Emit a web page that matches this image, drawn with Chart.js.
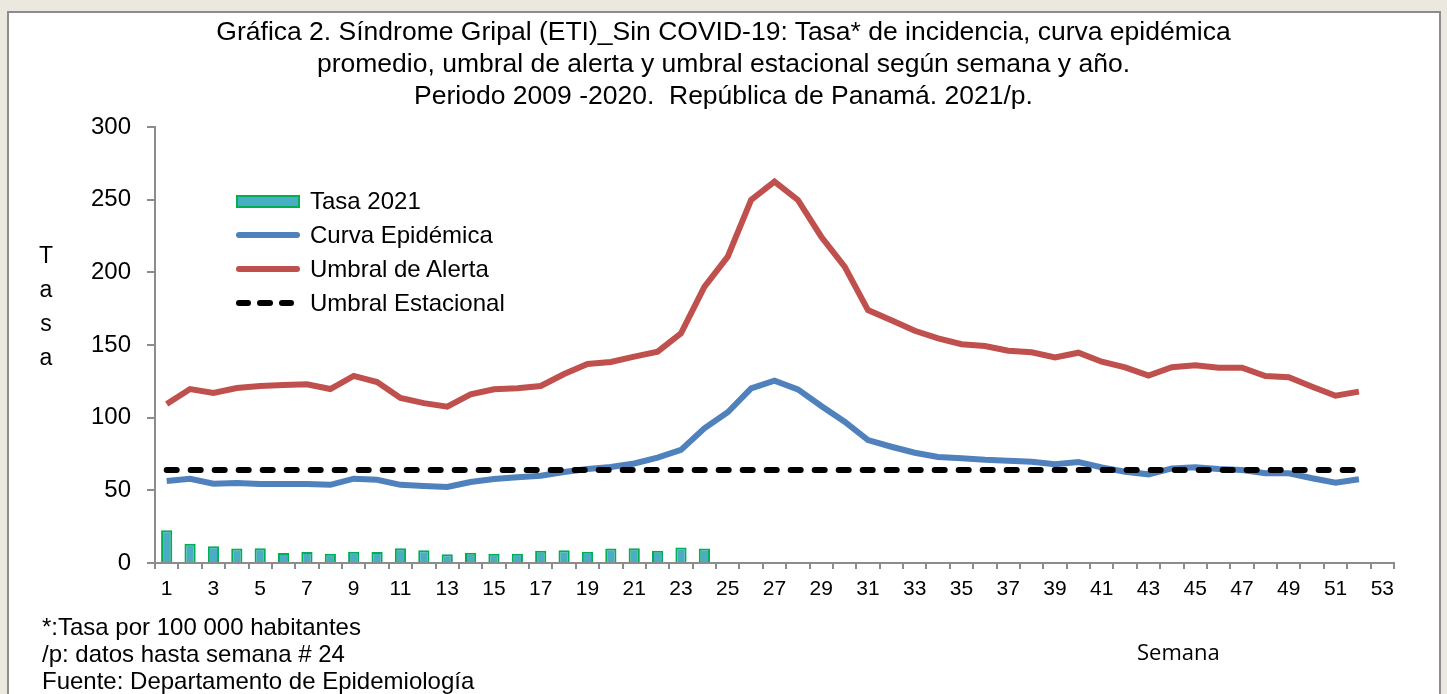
<!DOCTYPE html>
<html>
<head>
<meta charset="utf-8">
<script src="https://cdn.jsdelivr.net/npm/chart.js@4.4.1/dist/chart.umd.min.js"></script>
<style>
  html, body { margin: 0; padding: 0; }
  body { width: 1447px; height: 694px; background: #ebe8e0; position: relative; overflow: hidden;
         font-family: "Liberation Sans", Arial, sans-serif; color: #000; }
  #box { position: absolute; left: 7px; top: 11px; width: 1434px; height: 700px; background: #fff;
         border: 2px solid #8c8c8c; box-sizing: border-box; }
  #wrap { position: absolute; left: 0; top: 0; width: 1447px; height: 694px; }
  .txt { position: absolute; white-space: nowrap; }
  #title { left: 0; width: 1447px; top: 15px; text-align: center; font-size: 26.5px; line-height: 32px; }
  #ylab { left: 34px; top: 238px; width: 24px; text-align: center; font-size: 23px; line-height: 34px; }
  #notes { left: 42px; top: 613px; font-size: 24px; line-height: 27px; }
  #semana { left: 1137px; top: 636px; font-family: "Open Sans", sans-serif; font-size: 22px; }
  #legend { left: 236px; top: 184px; font-size: 24px; }
  .row { height: 34px; display: flex; align-items: center; }
  .sym { width: 64px; height: 14px; margin-right: 10px; position: relative; }
  .bar { background: #4bacc6; border: 2px solid #00b050; box-sizing: border-box; height: 13px; }
  .ln { height: 6px; border-radius: 3px; }
  .dash { display: inline-block; width: 17px; height: 6px; border-radius: 3px; background: #000; margin-right: 6px; }
</style>
</head>
<body>
<div id="box"></div>
<div id="wrap"><canvas id="c" width="1447" height="694"></canvas></div>

<div class="txt" id="title">Gráfica 2. Síndrome Gripal (ETI)_Sin COVID-19: Tasa* de incidencia, curva epidémica<br>promedio, umbral de alerta y umbral estacional según semana y año.<br>Periodo 2009 -2020.&nbsp; República de Panamá. 2021/p.</div>
<div class="txt" id="ylab">T<br>a<br>s<br>a</div>
<div class="txt" id="legend">
  <div class="row"><div class="sym bar"></div>Tasa 2021</div>
  <div class="row"><div class="sym ln" style="background:#4f81bd"></div>Curva Epidémica</div>
  <div class="row"><div class="sym ln" style="background:#c0504d"></div>Umbral de Alerta</div>
  <div class="row"><div class="sym" style="height:6px;display:flex"><span class="dash"></span><span class="dash"></span><span class="dash"></span></div>Umbral Estacional</div>
</div>
<div class="txt" id="notes">*:Tasa por 100 000 habitantes<br>/p: datos hasta semana # 24<br>Fuente: Departamento de Epidemiología</div>
<div class="txt" id="semana">Semana</div>

<script>
// semanas 1..53
var semanas = [];
for (var s = 1; s <= 53; s++) semanas.push(String(s));

// Tasa 2021 (semanas 1-24)
var tasa2021 = [22.5, 13.3, 11.5, 9.9, 10.1, 6.9, 7.6, 6.4, 7.8, 7.6, 10.1, 8.7,
                6.0, 7.0, 6.4, 6.4, 8.5, 8.7, 7.8, 9.9, 10.1, 8.5, 10.6, 9.9];

// Curva epidémica promedio (semanas 1-52)
var curvaEpidemica = [56.4, 58, 54.5, 55, 54.3, 54.3, 54.3, 53.8, 58, 57.3, 53.8, 53, 52.3, 55.7, 57.8, 59, 60,
                      62.6, 64.7, 66, 68.5, 72.5, 77.8, 92.7, 103.7, 120.2, 125.5, 119.5, 108, 97.2, 84.6, 80,
                      75.9, 73, 72, 71, 70.4, 69.7, 67.9, 69.5, 65.8, 62.8, 61, 65.1, 65.8, 64.7, 64, 61.7,
                      61.7, 58.3, 55.3, 57.6];

// Umbral de alerta (semanas 1-52)
var umbralAlerta = [109.4, 119.7, 117, 120.4, 121.8, 122.5, 123, 119.7, 128.7, 124.5, 113.5, 110, 107.6,
                    116, 119.5, 120.2, 121.8, 130, 137, 138.3, 142, 145.4, 158, 190, 210.8, 249.8, 262.4,
                    249.8, 224.5, 203.9, 174, 167, 159.8, 154.6, 150.5, 149.3, 146, 145, 141.5, 144.7,
                    138.5, 134.6, 128.9, 134.7, 136, 134.4, 134.4, 128.7, 127.8, 121.3, 115.1, 117.9];

// Umbral estacional (semanas 1-52)
var umbralEstacional = [];
for (var k = 0; k < 52; k++) umbralEstacional.push(64);

var yTicks = [0, 50, 100, 150, 200, 250, 300];

var gris = '#8c8c8c';
var font = 'Liberation Sans, Arial, sans-serif';

new Chart(document.getElementById('c').getContext('2d'), {
    type: 'bar',
    data: {
        labels: semanas,
        datasets: [
            { type: 'line', label: 'Umbral Estacional', data: umbralEstacional, borderColor: '#000',
              borderWidth: 6, borderDash: [10, 14], borderCapStyle: 'round', pointRadius: 0, order: 0 },
            { type: 'line', label: 'Umbral de Alerta', data: umbralAlerta, borderColor: '#c0504d',
              borderWidth: 6, pointRadius: 0, tension: 0, order: 1 },
            { type: 'line', label: 'Curva Epidémica', data: curvaEpidemica, borderColor: '#4f81bd',
              borderWidth: 6, pointRadius: 0, tension: 0, order: 2 },
            { type: 'bar', label: 'Tasa 2021', data: tasa2021, backgroundColor: '#4bacc6',
              borderColor: '#00b050', borderWidth: 2, categoryPercentage: 1, barPercentage: 0.48, order: 3 }
        ]
    },
    options: {
        responsive: false,
        animation: false,
        layout: { padding: { left: 0, right: 53, top: 127, bottom: 71 } },
        plugins: { legend: { display: false }, tooltip: { enabled: false }, title: { display: false } },
        scales: {
            x: {
                offset: true,
                grid: { offset: true, drawOnChartArea: false, drawTicks: true, tickLength: 6, color: gris, lineWidth: 2 },
                border: { display: true, color: gris, width: 2 },
                ticks: {
                    autoSkip: false, maxRotation: 0, padding: 8, color: '#000',
                    font: { family: font, size: 21 },
                    callback: function(v, i) { return i % 2 === 0 ? semanas[i] : ''; }
                },
                afterFit: function(scale) { scale.height = 60; }
            },
            y: {
                min: 0, max: 300,
                afterBuildTicks: function(scale) { scale.ticks = yTicks.map(function(v) { return { value: v }; }); },
                grid: { drawOnChartArea: false, drawTicks: true, tickLength: 8, color: gris, lineWidth: 2 },
                border: { display: true, color: gris, width: 2 },
                ticks: { padding: 16, color: '#000', font: { family: font, size: 24 } },
                afterFit: function(scale) { scale.width = 155; }
            }
        }
    }
});
</script>
</body>
</html>
